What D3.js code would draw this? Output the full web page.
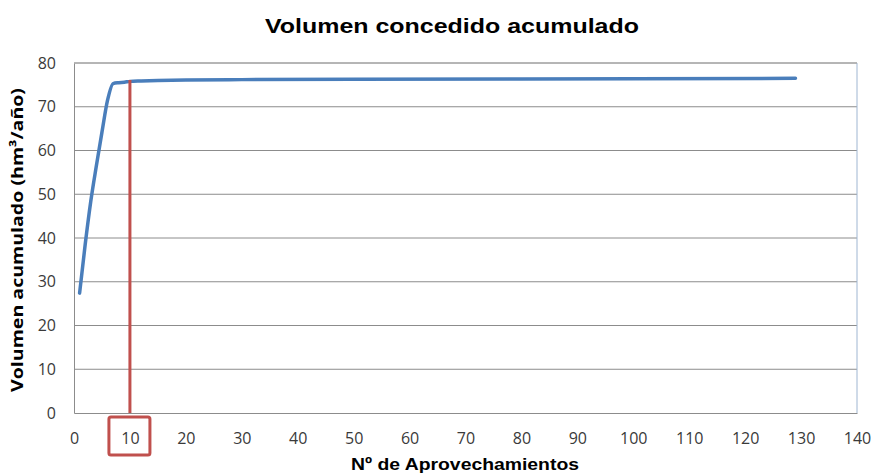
<!DOCTYPE html>
<html>
<head>
<meta charset="utf-8">
<script src="https://cdn.jsdelivr.net/npm/d3@7"></script>
<style>
  body { margin: 0; background: #fff; }
  svg { display: block; }
</style>
</head>
<body>
<div id="chart"></div>
<script>
const margin = { top: 63, left: 74, right: 17, bottom: 62 }
const width = 874
const height = 475

// data
const aprovechamientos = [1, 2, 3, 4, 5, 6, 7, 8, 9, 10, 12, 15, 20, 30, 50, 80, 100, 129]
const volumen = [27.4, 38.5, 48.4, 56.5, 64.2, 71.5, 75.3, 75.5, 75.6, 75.8, 75.9, 76.0, 76.1, 76.2, 76.3, 76.35, 76.4, 76.5]
const xTicks = [0, 10, 20, 30, 40, 50, 60, 70, 80, 90, 100, 110, 120, 130, 140]
const yTicks = [0, 10, 20, 30, 40, 50, 60, 70, 80]
const marcado = 10

const datapoints = aprovechamientos.map((n, i) => ({ n: n, v: volumen[i] }))

const svg = d3
  .select('#chart')
  .append('svg')
  .attr('width', width)
  .attr('height', height)

const xScale = d3
  .scaleLinear()
  .domain([0, 140])
  .range([margin.left, width - margin.right])

const yScale = d3
  .scaleLinear()
  .domain([0, 80])
  .range([height - margin.bottom, margin.top])

// gridlines
svg
  .append('g')
  .selectAll('line')
  .data(yTicks.filter(d => d > 0))
  .enter()
  .append('line')
  .attr('x1', xScale(0))
  .attr('x2', xScale(140))
  .attr('y1', d => yScale(d))
  .attr('y2', d => yScale(d))
  .attr('stroke', '#8c8c8c')
  .attr('stroke-width', 1)

// plot frame: right side is bluish, the rest grey
svg.append('line')
  .attr('x1', xScale(140)).attr('x2', xScale(140))
  .attr('y1', yScale(80)).attr('y2', yScale(0))
  .attr('stroke', '#9fb6d2').attr('stroke-width', 1)

// axes
const xAxis = d3.axisBottom(xScale).tickValues(xTicks).tickSize(0).tickPadding(20)
const yAxis = d3.axisLeft(yScale).tickValues(yTicks).tickSize(0).tickPadding(18)

const gx = svg.append('g')
  .attr('transform', `translate(0,${yScale(0)})`)
  .call(xAxis)
gx.select('.domain').attr('stroke', '#8c8c8c')
gx.selectAll('text')
  .attr('font-family', 'Open Sans, sans-serif')
  .attr('font-size', 16)
  .attr('fill', '#3a3a3a')

const gy = svg.append('g')
  .attr('transform', `translate(${xScale(0)},0)`)
  .call(yAxis)
gy.select('.domain').attr('stroke', '#8c8c8c')
gy.selectAll('text')
  .attr('font-family', 'Open Sans, sans-serif')
  .attr('font-size', 16)
  .attr('fill', '#3a3a3a')

// top border
svg.append('line')
  .attr('x1', xScale(0)).attr('x2', xScale(140))
  .attr('y1', yScale(80)).attr('y2', yScale(80))
  .attr('stroke', '#a6a6a6').attr('stroke-width', 1)

// the curve
const line = d3
  .line()
  .x(d => xScale(d.n))
  .y(d => yScale(d.v))
  .curve(d3.curveMonotoneX)

svg.append('path')
  .datum(datapoints)
  .attr('d', line)
  .attr('fill', 'none')
  .attr('stroke', '#4a7ebb')
  .attr('stroke-width', 3.5)
  .attr('stroke-linecap', 'round')
  .attr('stroke-linejoin', 'round')

// red marker at 10 aprovechamientos
const valorMarcado = volumen[aprovechamientos.indexOf(marcado)]
svg.append('line')
  .attr('x1', xScale(marcado)).attr('x2', xScale(marcado))
  .attr('y1', yScale(valorMarcado + 0.3)).attr('y2', yScale(0))
  .attr('stroke', '#c0504d')
  .attr('stroke-width', 3)

svg.append('rect')
  .attr('x', xScale(marcado) - 21)
  .attr('y', yScale(0) + 4)
  .attr('width', 41)
  .attr('height', 38)
  .attr('rx', 2)
  .attr('fill', 'none')
  .attr('stroke', '#c0504d')
  .attr('stroke-width', 3)

// titles
svg.append('text')
  .attr('x', 452)
  .attr('y', 33)
  .attr('text-anchor', 'middle')
  .attr('font-family', 'Liberation Sans, Arial, sans-serif')
  .attr('font-weight', 'bold')
  .attr('font-size', 21)
  .attr('textLength', 374)
  .attr('lengthAdjust', 'spacingAndGlyphs')
  .attr('fill', '#000')
  .text('Volumen concedido acumulado')

svg.append('text')
  .attr('x', 465)
  .attr('y', 470)
  .attr('text-anchor', 'middle')
  .attr('font-family', 'Liberation Sans, Arial, sans-serif')
  .attr('font-weight', 'bold')
  .attr('font-size', 17)
  .attr('textLength', 228)
  .attr('lengthAdjust', 'spacingAndGlyphs')
  .attr('fill', '#000')
  .text('Nº de Aprovechamientos')

svg.append('text')
  .attr('transform', 'translate(23,240) rotate(-90)')
  .attr('text-anchor', 'middle')
  .attr('font-family', 'Open Sans, sans-serif')
  .attr('font-weight', 'bold')
  .attr('font-size', 16)
  .attr('textLength', 304)
  .attr('lengthAdjust', 'spacingAndGlyphs')
  .attr('fill', '#000')
  .text('Volumen acumulado (hm³/año)')
</script>
</body>
</html>
